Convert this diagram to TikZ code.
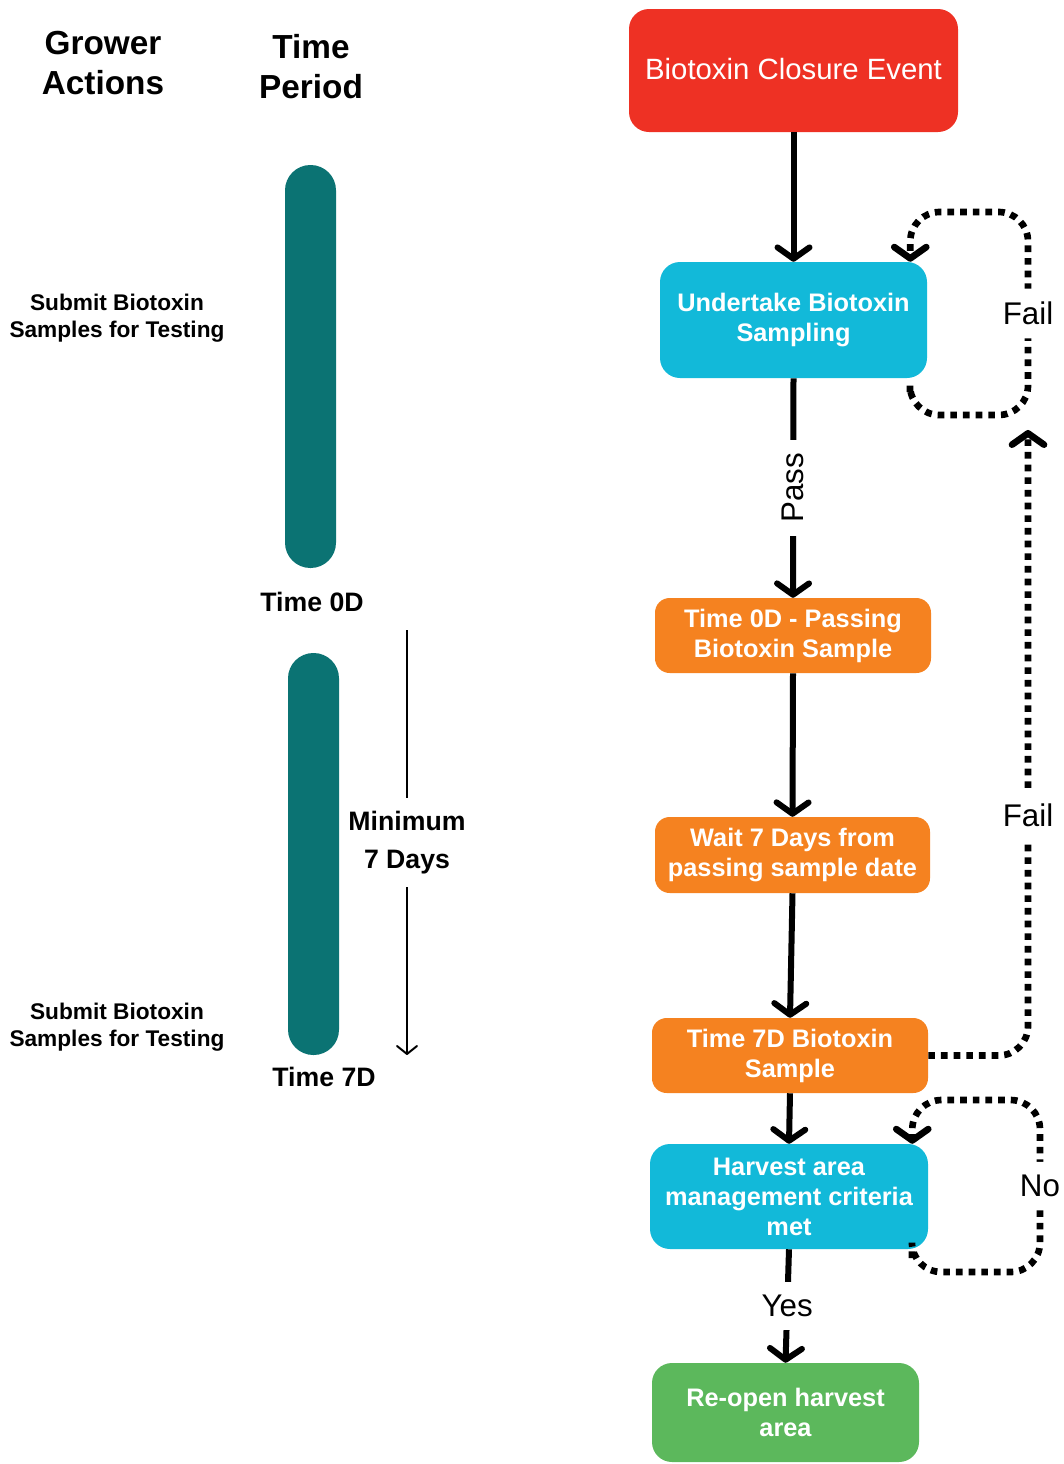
\documentclass[tikz,border=0pt]{standalone}
\usepackage{fontspec}
\setmainfont{Liberation Sans}
\usetikzlibrary{arrows.meta}
\definecolor{closurered}{HTML}{EE3124}
\definecolor{samplecyan}{HTML}{12B9D9}
\definecolor{steporange}{HTML}{F58220}
\definecolor{opengreen}{HTML}{5CB85C}
\definecolor{barteal}{HTML}{0B7373}
\tikzset{
  box/.style={rounded corners=15pt, text=white, align=center, inner sep=0pt,
    font=\fontsize{19}{22.5}\selectfont\bfseries},
  bar/.style={fill=barteal, rounded corners=19pt, inner sep=0pt, minimum width=38.25pt},
  flow/.style={line width=4.5pt, -{Straight Barb[length=8.5pt,width=24pt,round]}},
  retry/.style={flow, line width=5pt, dash pattern=on 5pt off 4.5pt, rounded corners=22pt},
  span/.style={line width=1.5pt, -{Straight Barb[length=6pt,width=15pt,round]}},
  lbl/.style={fill=white, inner sep=10pt, font=\fontsize{23.5}{26}\selectfont},
  head/.style={align=center, font=\fontsize{25}{30}\selectfont\bfseries},
  act/.style={align=center, font=\fontsize{17}{20}\selectfont\bfseries},
  tlabel/.style={font=\fontsize{20}{24}\selectfont\bfseries},
  minlbl/.style={fill=white, align=center, inner xsep=2pt, inner ysep=10pt,
    font=\fontsize{20}{28.5}\selectfont\bfseries}
}
\begin{document}
\begin{tikzpicture}[x=0.75pt, y=-0.75pt]
	\useasboundingbox (0,0) rectangle (1064,1464);
	% left: grower actions and time period
	\node[head] (grower) at (103,63) {Grower\\Actions};
	\node[head] (period) at (311,67) {Time\\Period};
	\node[bar, minimum height=302.25pt] (bar0) at (310.5,366.5) {};
	\node[bar, minimum height=301.5pt] (bar7) at (313.5,854) {};
	\node[act] (submit0) at (117,318) {Submit Biotoxin\\Samples for Testing};
	\node[act] (submit7) at (117,1027) {Submit Biotoxin\\Samples for Testing};
	\node[tlabel] (t0) at (312,602) {Time 0D};
	\node[tlabel] (t7) at (324,1077) {Time 7D};
	\coordinate (min0) at (407,630);
	\coordinate (min7) at (407,1055);
	\draw[span] (min0) -- node[minlbl] {Minimum\\7 Days} (min7);
	% right: flow chart
	\node[box, fill=closurered, minimum width=246.75pt, minimum height=92.25pt,
	  font=\fontsize{22}{26}\selectfont] (closure) at (793.5,70.5) {\raisebox{2.5pt}{Biotoxin Closure Event}};
	\node[box, fill=samplecyan, minimum width=200.25pt, minimum height=87pt] (sample) at (793.5,320) {Undertake Biotoxin\\Sampling};
	\node[box, fill=steporange, rounded corners=11pt, minimum width=207pt, minimum height=56.25pt] (pass0) at (793,635.5) {Time 0D - Passing\\Biotoxin Sample};
	\node[box, fill=steporange, rounded corners=11pt, minimum width=206.25pt, minimum height=57pt] (wait) at (792.5,855) {Wait 7 Days from\\passing sample date};
	\node[box, fill=steporange, rounded corners=11pt, minimum width=207pt, minimum height=56.25pt] (sample7) at (790,1055.5) {Time 7D Biotoxin\\Sample};
	\node[box, fill=samplecyan, minimum width=208.5pt, minimum height=78.75pt] (harvest) at (789,1196.5) {Harvest area\\management criteria\\met};
	\node[box, fill=opengreen, minimum width=200.25pt, minimum height=74.25pt] (reopen) at (785.5,1412.5) {Re-open harvest\\area};
	\draw[flow] (closure.south) -- (sample.north);
	\draw[flow] (sample.south) -- node[lbl, rotate=90] {Pass} (pass0.north);
	\draw[flow] (pass0.south) -- (wait.north);
	\draw[flow] (wait.south) -- (sample7.north);
	\draw[flow] (sample7.south) -- (harvest.north);
	\draw[flow] (harvest.south) -- node[lbl] {Yes} (reopen.north);
	% dotted loops
	\coordinate (fail1) at (910,392);
	\draw[retry] (fail1) |- (1028,415) -- node[lbl] {Fail} (1028,212) -| ([xshift=-12.75pt]sample.north east);
	\coordinate (fail2) at (1028,430);
	\draw[retry] (sample7.east) -| (1028,815) node[lbl] {Fail} -- (fail2);
	\coordinate (no1) at (912,1258);
	\draw[retry] (no1) |- (1040,1272) -- node[lbl] {No} (1040,1100) -| ([xshift=-12pt]harvest.north east);
\end{tikzpicture}
\end{document}
